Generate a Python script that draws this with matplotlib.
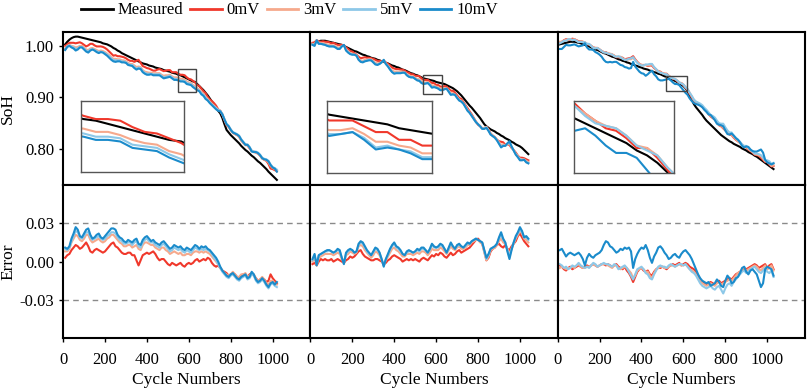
import numpy as np
import matplotlib
matplotlib.use("Agg")
import matplotlib.pyplot as plt
from matplotlib.lines import Line2D
from matplotlib.patches import Rectangle

plt.rcParams["font.family"] = "Liberation Serif"
plt.rcParams["font.size"] = 12
plt.rcParams["axes.unicode_minus"] = False

labels = ["Measured", "0mV", "3mV", "5mV", "10mV"]
colors = ["black", "#F0382B", "#F6A98C", "#8DC8E8", "#1A8BCB"]

# SoH values x1000, one value every 10 cycles starting at cycle 10
meas_a = [1003, 1008, 1012, 1015, 1017, 1018, 1018, 1017, 1016, 1015,
          1014, 1013, 1012, 1011, 1010, 1009, 1008, 1007, 1005, 1004,
          1003, 1001, 999, 996, 994, 991, 989, 986, 984, 982,
          980, 978, 976, 974, 972, 970, 968, 966, 965, 964,
          962, 961, 960, 958, 957, 956, 955, 953, 952, 951,
          950, 948, 947, 946, 944, 943, 941, 939, 937, 935,
          933, 931, 930, 926, 922, 918, 914, 909, 904, 898,
          892, 886, 880, 874, 869, 860, 848, 837, 832, 827,
          823, 819, 815, 811, 806, 802, 798, 795, 791, 787,
          784, 780, 776, 773, 769, 765, 761, 756, 752, 748,
          744, 740]
meas_b = [1004, 1006, 1008, 1009, 1010, 1010, 1010, 1009, 1008, 1007,
          1006, 1005, 1004, 1003, 1002, 1000, 998, 996, 994, 992,
          990, 989, 987, 985, 983, 982, 980, 979, 977, 976,
          975, 973, 972, 970, 969, 967, 966, 964, 962, 961,
          959, 958, 956, 954, 953, 951, 949, 947, 946, 944,
          943, 941, 939, 937, 936, 935, 934, 933, 932, 930,
          929, 928, 927, 926, 924, 922, 920, 918, 915, 912,
          908, 904, 899, 894, 889, 884, 880, 875, 870, 865,
          860, 854, 848, 844, 841, 838, 836, 834, 831, 829,
          826, 824, 821, 819, 817, 814, 812, 809, 807, 805,
          802, 798, 794, 790]
meas_c = [1003, 1004, 1005, 1006, 1007, 1008, 1008, 1008, 1007, 1006,
          1005, 1003, 1002, 1000, 999, 997, 995, 993, 992, 990,
          988, 986, 985, 983, 981, 979, 978, 976, 974, 973,
          971, 970, 968, 967, 965, 964, 962, 961, 959, 958,
          956, 955, 954, 952, 951, 949, 948, 946, 945, 943,
          941, 940, 938, 936, 934, 932, 930, 927, 925, 922,
          918, 912, 903, 895, 887, 881, 876, 871, 866, 860,
          855, 851, 847, 843, 839, 835, 831, 827, 824, 821,
          818, 815, 813, 810, 808, 806, 804, 801, 799, 797,
          794, 792, 790, 787, 785, 782, 779, 776, 773, 770,
          767, 764, 761]

# errors (measured - estimated) x1000
err0_a = [3, 5, 6, 9, 11, 13, 12, 10, 11, 13,
          15, 12, 8, 7, 9, 10, 9, 8, 7, 8,
          10, 12, 14, 15, 12, 11, 9, 7, 6, 6,
          7, 7, 5, 5, 1, -3, 1, 5, 6, 7,
          6, 7, 8, 6, 3, 1, 2, 2, 0, -2,
          -3, -1, -2, -3, -2, -1, -3, -4, -2, -1,
          -2, -1, 1, 2, 0, 1, 2, 1, 3, 2,
          -1, -3, -4, -3, -5, -7, -8, -9, -11, -10,
          -9, -10, -12, -13, -11, -10, -11, -12, -10, -9,
          -11, -13, -15, -14, -13, -14, -16, -15, -10, -13,
          -15, -17]
err3_a = [8, 8, 10, 15, 18, 21, 20, 17, 16, 18,
          21, 21, 17, 15, 16, 17, 18, 16, 15, 16,
          18, 19, 21, 21, 19, 17, 15, 14, 12, 12,
          13, 13, 11, 12, 13, 10, 9, 13, 15, 15,
          14, 13, 13, 11, 10, 9, 11, 11, 9, 8,
          6, 7, 8, 7, 6, 7, 5, 5, 6, 6,
          5, 7, 8, 8, 7, 8, 7, 8, 7, 6,
          4, 2, 0, -2, -5, -7, -9, -10, -11, -10,
          -8, -10, -12, -12, -10, -10, -9, -12, -11, -9,
          -10, -13, -15, -14, -12, -14, -17, -18, -15, -15,
          -17, -18]
err5_a = [10, 9, 11, 16, 20, 24, 23, 19, 18, 20,
          23, 23, 19, 17, 18, 19, 20, 18, 17, 18,
          20, 21, 23, 23, 22, 19, 17, 16, 14, 14,
          15, 15, 13, 15, 16, 12, 11, 15, 17, 18,
          16, 15, 15, 13, 12, 11, 13, 14, 12, 10,
          8, 9, 11, 10, 9, 10, 8, 7, 9, 8,
          7, 9, 11, 10, 9, 10, 9, 10, 9, 8,
          6, 3, 1, -2, -5, -8, -10, -12, -13, -11,
          -10, -12, -14, -15, -13, -12, -11, -14, -13, -10,
          -11, -15, -17, -16, -14, -16, -19, -21, -18, -17,
          -19, -20]
err10_a = [11, 10, 12, 18, 22, 27, 25, 20, 19, 22,
           25, 26, 21, 18, 19, 21, 22, 19, 18, 20,
           22, 24, 26, 26, 25, 21, 19, 18, 16, 15,
           17, 16, 15, 17, 18, 14, 13, 17, 19, 20,
           18, 16, 17, 15, 14, 13, 15, 16, 14, 12,
           10, 11, 13, 12, 11, 12, 10, 9, 11, 10,
           9, 11, 13, 12, 10, 12, 11, 12, 10, 9,
           7, 5, 3, 0, -4, -7, -9, -11, -12, -10,
           -9, -11, -13, -14, -12, -11, -10, -13, -12, -8,
           -10, -14, -16, -15, -13, -15, -18, -20, -17, -16,
           -18, -16]

err0_b = [-2, -1, -3, 0, 2, 1, 2, 1, 1, 2,
          0, 1, 2, 1, 0, -1, 1, 2, 4, 3,
          4, 6, 8, 9, 6, 4, 3, 2, 1, 1,
          2, 2, 1, 0, -2, -1, 1, 2, 4, 5,
          4, 3, 2, 0, 1, 2, 1, 2, 1, 2,
          1, 0, 2, 3, 2, 1, 3, 5, 4, 6,
          5, 7, 6, 4, 3, 5, 7, 5, 6, 8,
          9, 7, 8, 9, 10, 11, 13, 15, 17, 18,
          16, 14, 8, 1, 3, 8, 10, 11, 13, 14,
          12, 11, 13, 10, 9, 12, 14, 16, 20, 22,
          19, 16, 14, 12]
err3_b = [0, 3, -3, 3, 4, 5, 6, 6, 6, 6,
          5, 6, 7, 6, 2, -1, 5, 6, 8, 7,
          6, 7, 12, 13, 12, 9, 7, 5, 3, 5,
          8, 7, 5, 1, -3, 1, 4, 7, 10, 11,
          9, 8, 6, 4, 4, 6, 6, 6, 5, 6,
          7, 6, 8, 8, 7, 5, 7, 10, 9, 9,
          9, 11, 10, 8, 6, 9, 12, 10, 9, 11,
          12, 10, 10, 11, 13, 13, 15, 16, 17, 17,
          15, 14, 7, 1, 4, 9, 10, 11, 13, 16,
          18, 15, 14, 10, 6, 10, 14, 18, 21, 24,
          22, 18, 17, 15]
err5_b = [1, 5, -2, 5, 6, 7, 8, 8, 9, 8,
          7, 8, 9, 8, 3, -1, 6, 8, 9, 9,
          7, 8, 13, 15, 14, 11, 8, 6, 5, 7,
          10, 9, 7, 2, -3, 2, 5, 9, 12, 14,
          11, 10, 8, 6, 5, 7, 8, 8, 7, 8,
          9, 8, 10, 10, 9, 7, 9, 13, 11, 11,
          11, 13, 12, 10, 7, 10, 14, 12, 10, 12,
          13, 12, 11, 12, 14, 14, 16, 17, 18, 17,
          16, 15, 8, 2, 5, 10, 11, 12, 14, 18,
          21, 17, 15, 9, 4, 10, 15, 19, 22, 25,
          23, 19, 19, 17]
err10_b = [2, 6, -3, 5, 6, 7, 8, 9, 9, 8,
           7, 8, 10, 9, 3, -2, 7, 9, 10, 9,
           7, 8, 14, 16, 15, 12, 9, 7, 5, 8,
           11, 10, 7, 2, -4, 2, 6, 10, 13, 15,
           12, 11, 9, 6, 5, 8, 9, 8, 7, 8,
           10, 9, 11, 11, 9, 7, 10, 14, 12, 11,
           12, 14, 13, 10, 7, 11, 15, 12, 10, 13,
           14, 12, 11, 13, 15, 14, 16, 17, 18, 17,
           16, 15, 9, 3, 6, 10, 11, 12, 14, 19,
           23, 18, 15, 8, 2, 9, 15, 20, 23, 27,
           24, 19, 20, 18]

err0_c = [-3, -4, -6, -7, -5, -4, -6, -5, -4, -3,
          -4, -5, -4, -3, -4, -3, -2, -3, -4, -3,
          -2, -2, -3, -2, -3, -4, -3, -2, -4, -5,
          -6, -4, -7, -9, -12, -16, -12, -8, -6, -5,
          -7, -8, -7, -10, -11, -8, -6, -5, -5, -4,
          -5, -6, -4, -3, -2, -3, -2, -1, -3, -2,
          -1, -2, -4, -5, -6, -8, -11, -14, -16, -17,
          -18, -17, -16, -17, -18, -16, -15, -17, -16, -15,
          -14, -13, -14, -12, -10, -9, -8, -7, -5, -6,
          -5, -4, -3, -2, -3, -5, -4, -3, -2, -5,
          -3, -2, -6]
err3_c = [-5, -4, -5, -6, -5, -5, -4, -5, -3, -2,
          -4, -5, -5, -4, -4, -3, -2, -3, -4, -3,
          -2, -2, -2, -3, -4, -5, -3, -3, -5, -6,
          -5, -4, -5, -7, -9, -13, -11, -7, -6, -5,
          -6, -8, -8, -11, -13, -9, -6, -5, -4, -4,
          -5, -5, -4, -3, -3, -4, -3, -2, -3, -3,
          -2, -4, -6, -7, -8, -10, -13, -15, -17, -18,
          -19, -18, -17, -18, -19, -17, -16, -18, -17, -16,
          -15, -14, -15, -13, -11, -9, -8, -6, -5, -7,
          -6, -5, -4, -3, -4, -6, -7, -5, -3, -6,
          -5, -3, -7]
err5_c = [-2, -3, -5, -4, -6, -5, -3, -4, -3, -1,
          -3, -4, -5, -4, -5, -3, -1, -2, -4, -3,
          -2, -1, -2, -2, -3, -4, -2, -3, -6, -5,
          -4, -3, -5, -8, -11, -14, -10, -6, -5, -4,
          -6, -9, -10, -13, -14, -10, -7, -4, -3, -4,
          -4, -5, -3, -2, -3, -4, -3, -2, -2, -3,
          -2, -4, -6, -8, -9, -11, -14, -17, -19, -20,
          -21, -20, -19, -21, -22, -20, -19, -22, -25, -21,
          -18, -17, -19, -16, -14, -12, -10, -8, -7, -9,
          -8, -6, -5, -4, -6, -8, -9, -7, -5, -8,
          -9, -7, -12]
err10_c = [9, 10, 7, 4, 6, 7, 6, 5, 6, 7,
           5, 2, -3, 3, 6, 4, 3, 5, 6, 7,
           9, 13, 16, 15, 12, 11, 9, 7, 8, 10,
           9, 11, 10, 11, 8, -5, 2, 6, 9, 11,
           10, 13, 9, 3, -1, 4, 7, 11, 12, 10,
           7, 5, 2, 3, 5, 6, 4, 3, 6, 8,
           9, 7, 5, 2, -2, -6, -10, -13, -15, -16,
           -17, -16, -19, -18, -17, -14, -16, -19, -20, -15,
           -11, -13, -17, -16, -13, -12, -9, -5, -4, -8,
           -10, -7, -6, -8, -10, -15, -20, -17, -6, -4,
           -5, -6, -11]

panels = [(meas_a, [err0_a, err3_a, err5_a, err10_a]),
          (meas_b, [err0_b, err3_b, err5_b, err10_b]),
          (meas_c, [err0_c, err3_c, err5_c, err10_c])]

# zoom box on the main axes and the view shown inside the inset
boxes = [(548, 632, 0.911, 0.955), (538, 628, 0.907, 0.944), (519, 616, 0.912, 0.9415)]
views = [(548, 632, 0.911, 0.955), (538, 628, 0.907, 0.944), (519, 616, 0.918, 0.947)]
inset_pos = [[0.073, 0.086, 0.415, 0.46], [0.067, 0.081, 0.423, 0.467], [0.065, 0.081, 0.405, 0.467]]

fig, axes = plt.subplots(2, 3, figsize=(8.09, 3.9), dpi=100, sharex=True)
fig.subplots_adjust(left=0.078, right=0.995, top=0.918, bottom=0.133, wspace=0, hspace=0)

for j, (meas, errs) in enumerate(panels):
    n = min([len(meas)] + [len(e) for e in errs])
    cyc = np.arange(1, n + 1) * 10
    soh = np.array(meas[:n]) / 1000.0
    errs = [np.array(e[:n]) / 1000.0 for e in errs]

    top = axes[0, j]
    bot = axes[1, j]
    ins = top.inset_axes(inset_pos[j])

    for ax in (top, ins):
        ax.plot(cyc, soh, color=colors[0], lw=1.5)
        for e, c in zip(errs, colors[1:]):
            ax.plot(cyc, soh - e, color=c, lw=1.5)
    for e, c in zip(errs, colors[1:]):
        bot.plot(cyc, e, color=c, lw=1.5)

    for y in (0.03, -0.03):
        bot.axhline(y, color="#8a8a8a", lw=1.0, ls=(0, (4, 3)), zorder=0)

    # inset
    x0, x1, y0, y1 = views[j]
    ins.set_xlim(x0, x1)
    ins.set_ylim(y0, y1)
    ins.set_xticks([])
    ins.set_yticks([])
    for s in ins.spines.values():
        s.set_color("#555555")
        s.set_linewidth(1.0)
    bx0, bx1, by0, by1 = boxes[j]
    top.add_patch(Rectangle((bx0, by0), bx1 - bx0, by1 - by0, fill=False,
                            ec="#444444", lw=1.0, zorder=5))

    top.set_ylim(0.73, 1.027)
    top.set_yticks([0.80, 0.90, 1.00])
    bot.set_ylim(-0.06, 0.06)
    bot.set_yticks([-0.03, 0.0, 0.03])
    bot.set_xlim(0, 1180)
    bot.set_xticks([0, 200, 400, 600, 800, 1000])
    bot.set_xlabel("Cycle Numbers", fontsize=12.5, labelpad=3)

    for ax in (top, bot):
        for s in ax.spines.values():
            s.set_linewidth(1.5)
        ax.tick_params(direction="out", length=3, width=1, labelsize=12)
    bot.tick_params(axis="x", pad=7)
    top.tick_params(bottom=False)
    if j > 0:
        top.tick_params(left=False, labelleft=False)
        bot.tick_params(left=False, labelleft=False)
    else:
        top.yaxis.set_major_formatter(plt.FormatStrFormatter("%.2f"))
        bot.yaxis.set_major_formatter(plt.FormatStrFormatter("%.2f"))

axes[0, 0].set_ylabel("SoH", fontsize=12.5)
axes[0, 0].yaxis.set_label_coords(-0.19, 0.5)
axes[1, 0].set_ylabel("Error", fontsize=12.5)
axes[1, 0].yaxis.set_label_coords(-0.19, 0.5)

handles = [Line2D([], [], color=c, lw=2) for c in colors]
fig.legend(handles, labels, loc="upper left", bbox_to_anchor=(0.097, 1.0), ncol=5,
           frameon=False, fontsize=12, handlelength=1.9, handletextpad=0.3,
           columnspacing=0.4, borderaxespad=0.05, borderpad=0.1)

fig.savefig("out.png", dpi=100)
